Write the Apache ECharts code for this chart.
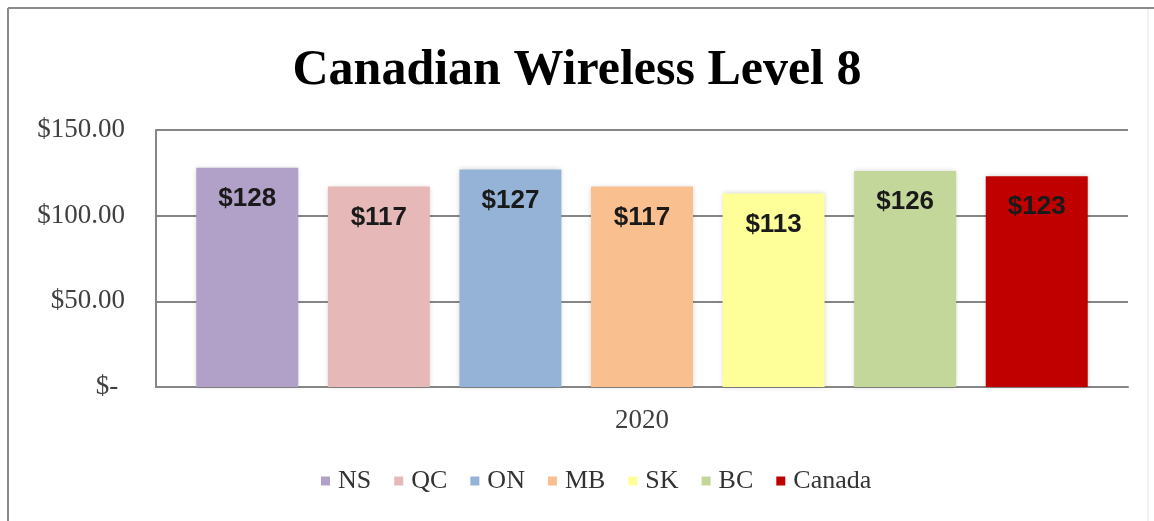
<!DOCTYPE html>
<html>
<head>
<meta charset="utf-8">
<title>Canadian Wireless Level 8</title>
<script src="https://cdn.jsdelivr.net/npm/echarts@6/dist/echarts.min.js"></script>
<style>
  html, body { margin: 0; padding: 0; background: #fff; }
  #chart { width: 1154px; height: 521px; }
</style>
</head>
<body>
<div id="chart"></div>
<script>
// data
const years = ['2020']
const regions = ['NS', 'QC', 'ON', 'MB', 'SK', 'BC', 'Canada']
const prices = [128, 117, 127, 117, 113, 126, 123]
const regionColors = ['#B1A0C7', '#E6B9B8', '#95B3D7', '#FABF8F', '#FFFF99', '#C4D79B', '#C00000']
const yTicks = [0, 50, 100, 150]

const serif = '"Liberation Serif", "Times New Roman", serif'
const axisGray = '#868686'

const chart = echarts.init(document.getElementById('chart'))

const series = regions.map((name, i) => ({
  name: name,
  type: 'bar',
  data: [prices[i]],
  barWidth: 102,
  barGap: '29%',
  itemStyle: {
    color: regionColors[i],
    shadowBlur: 5,
    shadowColor: 'rgba(0,0,0,0.18)'
  },
  label: {
    show: true,
    position: 'insideTop',
    distance: 18,
    formatter: p => '$' + p.value,
    fontFamily: '"Liberation Sans", Arial, sans-serif',
    fontWeight: 'bold',
    fontSize: 26,
    color: '#1a1a1a'
  }
}))

chart.setOption({
  animation: false,
  title: {
    text: 'Canadian Wireless Level 8',
    left: 'center',
    top: 41,
    textStyle: {
      fontFamily: serif,
      fontWeight: 'bold',
      fontSize: 50,
      color: '#000'
    }
  },
  legend: {
    data: regions,
    bottom: 22,
    left: 316,
    icon: 'rect',
    itemWidth: 9,
    itemHeight: 9,
    itemGap: 23,
    textStyle: {
      fontFamily: serif,
      fontSize: 26,
      color: '#333',
      padding: [0, 0, 0, 3]
    }
  },
  grid: {
    left: 156,
    right: 26,
    top: 130,
    bottom: 134
  },
  xAxis: {
    type: 'category',
    data: years,
    axisLine: { lineStyle: { color: axisGray, width: 2 } },
    axisTick: { length: 8, lineStyle: { color: axisGray, width: 2 } },
    axisLabel: {
      margin: 20,
      fontFamily: serif,
      fontSize: 27,
      color: '#404040'
    }
  },
  yAxis: {
    type: 'value',
    min: yTicks[0],
    max: yTicks[yTicks.length - 1],
    interval: 50,
    axisLine: { show: true, lineStyle: { color: axisGray, width: 2 } },
    axisTick: { show: false },
    splitLine: { lineStyle: { color: axisGray, width: 2 } },
    axisLabel: {
      margin: 31,
      padding: [6, 0, 0, 0],
      fontFamily: serif,
      fontSize: 27,
      color: '#404040',
      formatter: v => v === 0 ? '$- ' : '$' + v.toFixed(2)
    }
  },
  graphic: [
    { type: 'line', shape: { x1: 8, y1: 8, x2: 1154, y2: 8 }, style: { stroke: '#8a8a8a', lineWidth: 2 } },
    { type: 'line', shape: { x1: 8, y1: 8, x2: 8, y2: 521 }, style: { stroke: '#8a8a8a', lineWidth: 2 } },
    { type: 'line', shape: { x1: 1148, y1: 9, x2: 1148, y2: 521 }, style: { stroke: '#e6e6e6', lineWidth: 1 } }
  ],
  series: series
})
</script>
</body>
</html>
